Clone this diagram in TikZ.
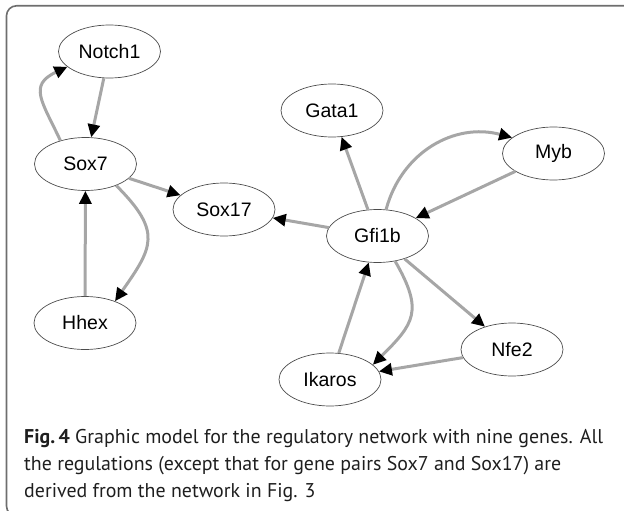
\documentclass[tikz,border=0pt]{standalone}
\usepackage{fontspec}
\setmainfont{Liberation Sans}
\newfontfamily\capfont{PT Sans}
\usetikzlibrary{arrows.meta,shapes.geometric}
\definecolor{edgegray}{RGB}{166,166,166}
\definecolor{framegray}{RGB}{110,110,110}
\definecolor{captext}{RGB}{30,30,30}
% caption font size chosen so that the first line is 579pt long
\newsavebox\capmeasure
\sbox\capmeasure{\capfont\fontsize{21}{21}\selectfont\textbf{Fig.\,4} Graphic model for the regulatory network with nine genes. All}
\pgfmathsetmacro\capsize{21*579/\wd\capmeasure}
\begin{document}
\begin{tikzpicture}[x=1pt,y=-1pt,
  gene/.style={ellipse, draw=black!70, line width=0.7pt,
    minimum width=102pt, minimum height=53pt, inner sep=0pt,
    font=\fontsize{19.5}{19.5}\selectfont},
  reg/.style={draw=edgegray, line width=3pt,
    -{Triangle[length=13pt,width=12pt,color=black]}},
  capline/.style={anchor=base west, inner sep=0pt, text=captext,
    font=\capfont\fontsize{\capsize}{\capsize}\selectfont}]
\useasboundingbox (0,0) rectangle (624,511);

% open panel frame
\begin{scope}
  \clip (0,0) rectangle (624,511);
  \draw[framegray, line width=1.6pt, rounded corners=10pt]
    (6.5,5.8) rectangle (680,516);
\end{scope}

% genes
\node[gene] (notch1) at (109.5,51.5) {Notch1};
\node[gene] (sox7)   at (85.5,164)   {Sox7};
\node[gene] (hhex)   at (85,323)     {Hhex};
\node[gene] (sox17)  at (224,209.5)  {Sox17};
\node[gene] (gata1)  at (332,110.5)  {Gata1};
\node[gene] (gfi1b)  at (377.5,236)  {Gfi1b};
\node[gene] (myb)    at (553.5,153.5){Myb};
\node[gene] (nfe2)   at (512,349.5)  {Nfe2};
\node[gene] (ikaros) at (330,379.5)  {Ikaros};

% regulations
\draw[reg] (notch1) -- (sox7);
\draw[reg] (sox7.137) to[out=115,in=205,looseness=1.5] (notch1.200);
\draw[reg] (sox7) -- (sox17);
\draw[reg] (sox7.-35) to[out=-45,in=55,looseness=1.45] (hhex.36);
\draw[reg] (hhex) -- (sox7);
\draw[reg] (gfi1b) -- (sox17);
\draw[reg] (gfi1b) -- (gata1);
\draw[reg] (gfi1b.72) to[out=75,in=165,looseness=1.05] (myb.159);
\draw[reg] (myb) -- (gfi1b);
\draw[reg] (gfi1b) -- (nfe2);
\draw[reg] (gfi1b.-55) to[out=-60,in=45,looseness=1.4] (ikaros.19);
\draw[reg] (ikaros) -- (gfi1b);
\draw[reg] (nfe2) -- (ikaros);

% caption
\node[capline] (cap1) at (24,443) {\textbf{Fig.\,4} Graphic model for the regulatory network with nine genes. All};
\node[capline] (cap2) at (24,470) {the regulations (except that for gene pairs Sox7 and Sox17) are};
\node[capline] (cap3) at (24,497) {derived from the network in Fig. 3};
\end{tikzpicture}
\end{document}
